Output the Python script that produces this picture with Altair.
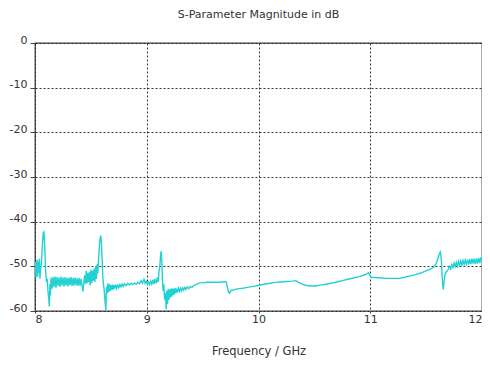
import altair as alt
import pandas as pd

freq = [
    8.000, 8.004, 8.009, 8.014, 8.019, 8.024, 8.029, 8.034, 8.039, 8.044,
    8.050, 8.056, 8.062, 8.068, 8.074, 8.080, 8.085, 8.091, 8.097, 8.103,
    8.110, 8.116, 8.122, 8.128, 8.133, 8.138,
    8.143, 8.152, 8.161, 8.170, 8.179, 8.188, 8.197, 8.206, 8.215, 8.224,
    8.233, 8.242, 8.251, 8.260, 8.269, 8.278, 8.287, 8.296, 8.305, 8.314,
    8.323, 8.332, 8.341, 8.350, 8.359, 8.368, 8.377, 8.386, 8.395, 8.404,
    8.413, 8.422, 8.430, 8.437,
    8.445, 8.452, 8.459, 8.466, 8.473, 8.480, 8.487, 8.494, 8.501, 8.508,
    8.515, 8.522, 8.529, 8.536, 8.543, 8.550, 8.557, 8.563, 8.569, 8.575,
    8.581, 8.588, 8.594, 8.600, 8.607, 8.613, 8.620, 8.627, 8.634, 8.640,
    8.646,
    8.652, 8.659, 8.666, 8.673, 8.680, 8.687, 8.694, 8.701, 8.708, 8.715,
    8.722, 8.730, 8.740, 8.750, 8.760, 8.770, 8.780, 8.790, 8.800, 8.815,
    8.830, 8.845, 8.860, 8.875, 8.890, 8.905, 8.920, 8.935, 8.950, 8.962,
    8.975, 8.985, 8.995, 9.005, 9.015, 9.025, 9.035, 9.045, 9.055, 9.065,
    9.075, 9.085, 9.095, 9.103, 9.110, 9.117, 9.124, 9.130, 9.135, 9.140,
    9.147, 9.153, 9.160, 9.167, 9.174, 9.180, 9.186, 9.192, 9.198, 9.204,
    9.210, 9.216, 9.222, 9.228, 9.234, 9.240, 9.247, 9.254, 9.261, 9.268,
    9.275, 9.283, 9.292, 9.301, 9.310, 9.320, 9.330, 9.340, 9.350, 9.362,
    9.375, 9.390, 9.405, 9.420, 9.440, 9.460, 9.480, 9.500, 9.520, 9.540,
    9.560, 9.580, 9.600, 9.620, 9.640, 9.660, 9.680, 9.700, 9.712, 9.722,
    9.732, 9.742, 9.755, 9.775, 9.800, 9.830, 9.860, 9.900, 9.950, 10.000,
    10.050, 10.100, 10.150, 10.200, 10.250, 10.300, 10.335, 10.360, 10.390, 10.430,
    10.470, 10.510, 10.550, 10.600, 10.650, 10.700, 10.750, 10.800, 10.850, 10.900,
    10.940, 10.970, 10.984, 10.995, 11.010, 11.050, 11.100, 11.150, 11.200, 11.260,
    11.300, 11.350, 11.400, 11.450, 11.500, 11.540, 11.570, 11.590, 11.605, 11.618,
    11.628, 11.636, 11.642, 11.648, 11.654, 11.660, 11.668, 11.678, 11.690, 11.700,
    11.710, 11.720, 11.730, 11.740, 11.750, 11.760, 11.770, 11.780, 11.790, 11.800,
    11.810, 11.820, 11.830, 11.840, 11.850, 11.860, 11.870, 11.880, 11.890, 11.900,
    11.910, 11.920, 11.930, 11.940, 11.950, 11.960, 11.970, 11.980, 11.990, 12.000,
]

db = [
    -51.5, -49.0, -52.5, -50.0, -48.5, -52.3, -49.0, -51.5, -48.3, -52.8,
    -50.5, -49.5, -47.0, -44.5, -42.5, -42.3, -44.5, -48.5, -52.0, -53.5,
    -52.8, -55.5, -57.0, -59.0, -54.0, -56.5,
    -52.5, -55.0, -52.4, -54.6, -52.3, -54.8, -52.4, -54.4, -52.5, -54.6,
    -52.3, -54.3, -52.5, -54.5, -52.4, -54.3, -52.6, -54.5, -52.5, -54.2,
    -52.4, -54.4, -52.6, -54.3, -52.5, -54.2, -52.7, -54.4, -52.6, -54.3,
    -52.8, -54.6, -55.6, -53.5,
    -52.0, -54.0, -51.0, -53.8, -51.5, -53.5, -51.2, -54.2, -50.8, -53.8,
    -51.0, -53.2, -50.5, -53.5, -50.0, -52.8, -49.5, -51.5, -48.0, -46.0,
    -44.0, -43.1, -44.5, -48.0, -52.5, -54.0, -55.5, -58.0, -59.8, -54.5,
    -56.0,
    -53.8, -55.8, -54.0, -55.5, -54.2, -55.3, -54.1, -55.2, -54.2, -55.0,
    -54.1, -54.9, -54.2, -54.8, -54.1, -54.6, -54.0, -54.5, -53.9, -54.3,
    -53.8, -54.2, -53.8, -54.1, -53.7, -54.0, -53.6, -53.9, -53.2, -53.8,
    -52.9, -53.8, -53.3, -54.0, -53.5, -54.1, -53.3, -54.0, -53.0, -54.0,
    -52.8, -53.8, -52.5, -53.5, -51.0, -50.0, -47.5, -46.6, -49.0, -53.0,
    -55.5, -54.0, -57.5, -56.0, -59.6, -55.5, -58.5, -55.0, -57.5, -55.2,
    -57.0, -55.0, -56.8, -55.0, -56.5, -55.0, -56.3, -54.9, -56.0, -55.0,
    -55.8, -54.9, -55.6, -54.9, -55.5, -54.8, -55.3, -54.7, -55.2, -54.6,
    -55.0, -54.5, -54.7, -54.3, -54.1, -53.8, -53.7, -53.6, -53.7, -53.5,
    -53.6, -53.5, -53.6, -53.5, -53.6, -53.5, -53.5, -53.4, -53.5, -54.8,
    -55.8, -56.0, -55.4, -55.3, -55.1, -55.0, -54.9, -54.7, -54.5, -54.3,
    -54.0, -53.8, -53.6, -53.5, -53.4, -53.3, -53.2, -53.6, -54.0, -54.3,
    -54.4, -54.4, -54.2, -54.0, -53.8, -53.5, -53.2, -52.9, -52.6, -52.3,
    -52.0, -51.7, -51.4, -52.0, -52.5, -52.5, -52.6, -52.7, -52.7, -52.7,
    -52.5, -52.2, -51.9, -51.5, -51.0, -50.6, -50.1, -49.4, -48.3, -47.2,
    -46.8, -48.5, -51.5, -54.0, -55.2, -53.5, -52.0, -51.3, -51.0, -50.6,
    -50.0, -50.6, -49.6, -50.3, -49.3, -50.1, -49.1, -49.9, -48.9, -49.8,
    -48.8, -49.7, -48.7, -49.6, -48.6, -49.5, -48.5, -49.6, -48.4, -49.5,
    -48.3, -49.4, -48.3, -49.5, -48.2, -49.4, -48.1, -49.3, -48.0, -48.8,
]

x_ticks = [8, 9, 10, 11, 12]
y_ticks = [-60, -50, -40, -30, -20, -10, 0]

df = pd.DataFrame({"f": freq, "db": db})

FONT = "DejaVu Sans"
TXT = "#333333"

chart = (
    alt.Chart(df)
    .mark_line(color="#22D2D2", strokeWidth=1.4, clip=True)
    .encode(
        x=alt.X(
            "f:Q",
            scale=alt.Scale(domain=[8, 12], nice=False, zero=False),
            axis=alt.Axis(
                values=x_ticks, labelExpr="'' + datum.value",
                title="Frequency / GHz",
                grid=True, gridDash=[2, 2], gridColor="#222222", gridOpacity=0.9,
                domain=False, tickSize=2, tickColor="#444444",
                labelPadding=0, labelFont=FONT, labelFontSize=11, labelColor=TXT,
                titleFont=FONT, titleFontSize=11.5, titleFontWeight="normal",
                titleColor=TXT, titlePadding=21,
            ),
        ),
        y=alt.Y(
            "db:Q",
            scale=alt.Scale(domain=[-60, 0], nice=False, zero=False),
            axis=alt.Axis(
                values=y_ticks, labelExpr="'' + datum.value", title=None,
                grid=True, gridDash=[2, 2], gridColor="#222222", gridOpacity=0.9,
                domain=False, tickSize=5, tickColor="#444444",
                labelPadding=3, labelBaseline="alphabetic",
                labelFont=FONT, labelFontSize=11, labelColor=TXT,
            ),
        ),
    )
    .properties(
        width=447,
        height=268,
        title=alt.TitleParams(
            "S-Parameter Magnitude in dB", font=FONT, fontSize=11,
            fontWeight="normal", color=TXT, frame="group", anchor="middle",
            offset=14,
        ),
        autosize=alt.AutoSizeParams(type="none"),
        padding={"left": 27, "top": 35, "right": 0, "bottom": 48},
    )
    .configure_view(stroke="#444444", strokeWidth=1.3)
)

chart.save("out.html", embed_options={"renderer": "svg", "actions": False})
